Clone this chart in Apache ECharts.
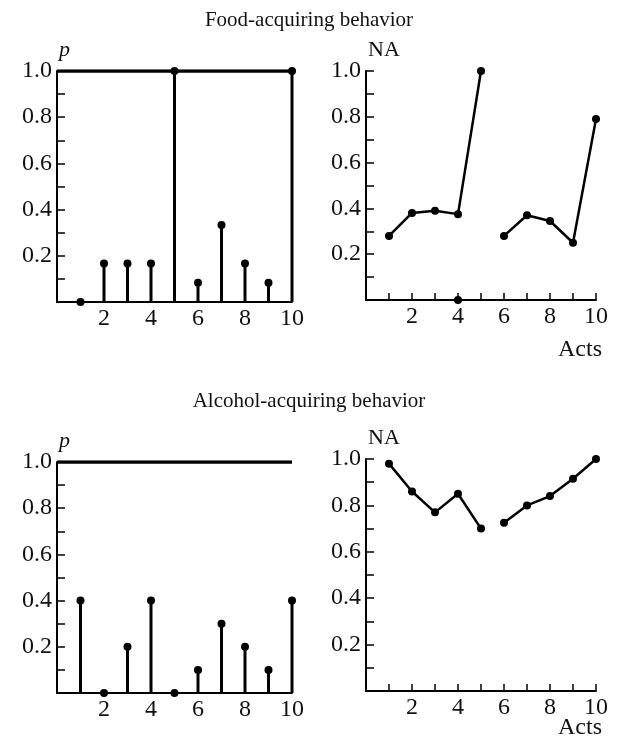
<!DOCTYPE html>
<html lang="en">
<head>
  <meta charset="UTF-8" />
  <title>Food- and alcohol-acquiring behavior</title>
  <script src="https://cdn.jsdelivr.net/npm/echarts@6/dist/echarts.min.js"></script>
  <style>
    body { margin: 0; padding: 0; background: #fff; }
    #chart { width: 618px; height: 746px; }
  </style>
</head>
<body>
  <div id="chart"></div>

  <script>
    // acts along the x axis
    const acts = [1, 2, 3, 4, 5, 6, 7, 8, 9, 10];

    // food-acquiring behavior
    const foodP = [0, 0.167, 0.167, 0.167, 1.0, 0.083, 0.333, 0.167, 0.083, 1.0];
    const foodNA = [0.28, 0.38, 0.39, 0.375, 1.0, 0.28, 0.37, 0.345, 0.25, 0.79];
    const foodNAAxisActs = [4];
    const foodNAAxisValues = [0];

    // alcohol-acquiring behavior
    const alcoholP = [0.4, 0, 0.2, 0.4, 0, 0.1, 0.3, 0.2, 0.1, 0.4];
    const alcoholNA = [0.98, 0.86, 0.77, 0.85, 0.70, 0.725, 0.80, 0.84, 0.915, 1.0];

    // p = 1 reference line drawn across the left panels
    const pRefActs = [0, 10];
    const pRefValue = 1.0;

    const titles = ["Food-acquiring behavior", "Alcohol-acquiring behavior"];

    const serif = '"Liberation Serif", "Times New Roman", serif';
    const ink = "#111";

    const pairs = (xs, ys) => xs.map((x, i) => [x, ys[i]]);

    const grids = [
      { left: 57, top: 71, width: 235, height: 231 },
      { left: 366, top: 71, width: 230, height: 229 },
      { left: 57, top: 462, width: 235, height: 231 },
      { left: 366, top: 459, width: 230, height: 232 }
    ];

    const dot = { color: "#000", opacity: 1 };

    function xAxis(i, ticks) {
      return {
        type: "value", gridIndex: i, min: 0, max: 10, interval: 1,
        axisLine: { lineStyle: { color: "#000", width: 2 } },
        axisTick: { show: ticks, inside: true, length: 7, lineStyle: { color: "#000", width: 1.5 } },
        splitLine: { show: false },
        axisLabel: {
          margin: 5, color: ink, fontFamily: serif, fontSize: 24,
          formatter: v => (v > 0 && v % 2 === 0) ? String(v) : ""
        }
      };
    }

    function yAxis(i, name) {
      return {
        type: "value", gridIndex: i, min: 0, max: 1, interval: 0.1,
        name: name, nameLocation: "end", nameGap: 10,
        nameTextStyle: {
          align: "left", padding: [0, 0, 0, 2], color: ink, fontFamily: serif,
          fontSize: 22, fontStyle: name === "p" ? "italic" : "normal"
        },
        axisLine: { lineStyle: { color: "#000", width: 2 } },
        axisTick: { inside: true, length: 8, lineStyle: { color: "#000", width: 1.5 } },
        splitLine: { show: false },
        axisLabel: {
          margin: 5, color: ink, fontFamily: serif, fontSize: 24,
          formatter: v => {
            const k = Math.round(v * 10);
            return (k > 0 && k % 2 === 0) ? (k / 10).toFixed(1) : "";
          }
        }
      };
    }

    function stemSeries(i, values) {
      return [
        {
          type: "bar", xAxisIndex: i, yAxisIndex: i, barWidth: 3,
          itemStyle: { color: "#000" }, data: pairs(acts, values)
        },
        {
          type: "scatter", xAxisIndex: i, yAxisIndex: i, symbolSize: 8,
          itemStyle: dot, data: pairs(acts, values), z: 3
        },
        {
          type: "line", xAxisIndex: i, yAxisIndex: i, showSymbol: false,
          lineStyle: { color: "#000", width: 3.5 },
          data: pRefActs.map(x => [x, pRefValue])
        }
      ];
    }

    function naSeries(i, values) {
      const lineOpts = {
        type: "line", xAxisIndex: i, yAxisIndex: i, symbol: "circle", symbolSize: 8,
        lineStyle: { color: "#000", width: 2.5 }, itemStyle: dot
      };
      return [
        Object.assign({}, lineOpts, { data: pairs(acts.slice(0, 5), values.slice(0, 5)) }),
        Object.assign({}, lineOpts, { data: pairs(acts.slice(5), values.slice(5)) })
      ];
    }

    const chart = echarts.init(document.getElementById("chart"));

    chart.setOption({
      animation: false,
      backgroundColor: "#fff",
      title: [
        { text: titles[0], left: "center", top: 5, textStyle: { fontFamily: serif, fontSize: 21, fontWeight: "normal", color: ink } },
        { text: titles[1], left: "center", top: 386, textStyle: { fontFamily: serif, fontSize: 21, fontWeight: "normal", color: ink } },
        { text: "Acts", left: 553, top: 333, textStyle: { fontFamily: serif, fontSize: 24, fontWeight: "normal", color: ink } },
        { text: "Acts", left: 553, top: 711, textStyle: { fontFamily: serif, fontSize: 24, fontWeight: "normal", color: ink } }
      ],
      grid: grids,
      xAxis: [xAxis(0, false), xAxis(1, true), xAxis(2, false), xAxis(3, true)],
      yAxis: [yAxis(0, "p"), yAxis(1, "NA"), yAxis(2, "p"), yAxis(3, "NA")],
      series: [
        ...stemSeries(0, foodP),
        ...naSeries(1, foodNA),
        {
          type: "scatter", xAxisIndex: 1, yAxisIndex: 1, symbolSize: 8,
          itemStyle: dot, data: pairs(foodNAAxisActs, foodNAAxisValues)
        },
        ...stemSeries(2, alcoholP),
        ...naSeries(3, alcoholNA)
      ]
    });
  </script>
</body>
</html>
